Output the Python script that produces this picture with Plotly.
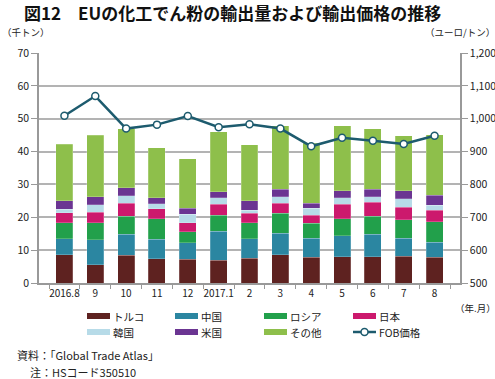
import plotly.graph_objects as go

months = ["2016.8", "9", "10", "11", "12", "2017.1", "2", "3", "4", "5", "6", "7", "8"]
turkey = [8.6, 5.5, 8.4, 7.4, 7.2, 7.0, 7.5, 8.6, 7.8, 8.0, 8.0, 8.1, 7.8]
china = [4.8, 7.6, 6.5, 5.9, 5.1, 8.7, 5.9, 6.6, 5.8, 6.4, 6.8, 5.5, 4.6]
russia = [5.0, 5.2, 5.4, 6.2, 3.3, 4.9, 5.0, 6.1, 4.6, 5.2, 5.5, 5.7, 6.2]
japan = [3.0, 3.3, 3.9, 3.1, 2.8, 3.3, 2.9, 3.0, 2.4, 4.4, 4.3, 3.7, 3.6]
korea = [1.1, 2.2, 2.3, 1.5, 2.5, 2.1, 0.9, 1.9, 2.2, 2.0, 1.6, 2.6, 1.5]
usa = [2.6, 2.5, 2.5, 1.8, 1.8, 1.8, 2.8, 2.3, 1.5, 2.1, 2.4, 2.5, 3.0]
other = [17.1, 18.7, 17.9, 15.2, 15.1, 18.2, 17.1, 19.3, 18.2, 19.7, 18.4, 16.7, 18.4]
fob = [1009, 1069, 970, 982, 1008, 974, 983, 970, 916, 942, 933, 923, 948]

series = [
    ("トルコ", turkey, "#5e2220"),
    ("中国", china, "#2b86a1"),
    ("ロシア", russia, "#22a04b"),
    ("日本", japan, "#cc196d"),
    ("韓国", korea, "#b7dbe8"),
    ("米国", usa, "#6b3592"),
    ("その他", other, "#8ebf4b"),
]
line_color = "#1d5b6e"
FONT = "Noto Sans CJK JP"

fig = go.Figure()
for name, vals, col in series:
    fig.add_trace(go.Bar(x=months, y=vals, name=name, marker=dict(color=col, line=dict(color="rgba(255,255,255,0.35)", width=0.6)),
                         showlegend=False))
fig.add_trace(go.Scatter(x=months, y=fob, name="FOB価格", yaxis="y2", mode="lines+markers",
                         line=dict(color=line_color, width=2.5),
                         marker=dict(size=7, color="white", line=dict(color=line_color, width=1.5)),
                         showlegend=False))

fig.update_layout(
    width=495, height=379,
    margin=dict(l=39, r=35, t=53, b=96),
    barmode="stack", bargap=0.45,
    plot_bgcolor="white", paper_bgcolor="white",
    font=dict(family=FONT, size=10, color="#222"),
    xaxis=dict(type="category", showline=True, linecolor="#999", linewidth=1.5,
               ticks="outside", tickson="boundaries", ticklen=4, tickcolor="#999",
               tickangle=0, automargin=False,
               tickfont=dict(size=10), showgrid=False),
    yaxis=dict(range=[0, 70], dtick=10, showline=True, linecolor="#999", linewidth=1.5,
               ticks="outside", ticklen=6, tickcolor="#999", gridcolor="#b3b3b3", gridwidth=1.5,
               zeroline=False, automargin=False, tickfont=dict(size=10.5)),
    yaxis2=dict(range=[500, 1200], dtick=100, overlaying="y", side="right", showline=True,
                linecolor="#999", linewidth=1.5, ticks="outside", ticklen=6, tickcolor="#999",
                showgrid=False, zeroline=False, automargin=False, tickformat=",", tickfont=dict(size=10.5)),
)

annotations = [
    dict(text="<b>図12　EUの化工でん粉の輸出量および輸出価格の推移</b>", x=22, y=13, font=dict(size=17, color="#111")),
    dict(text="（千トン）", x=0, y=32, font=dict(size=9.5)),
    dict(text="（ユーロ/トン）", x=423, y=32, font=dict(size=9.5)),
    dict(text="（年.月）", x=453, y=308, font=dict(size=9.5)),
    dict(text="資料：「Global Trade Atlas」", x=15, y=355, font=dict(size=11)),
    dict(text="注：HSコード350510", x=28, y=372, font=dict(size=11)),
]

shapes = []
legend_items = [(n, c) for n, _, c in series] + [("FOB価格", None)]
col_x = [87, 175, 264, 353]
row_y = [316, 332]
for i, (name, col) in enumerate(legend_items):
    cx = col_x[i % 4]
    cy = row_y[i // 4]
    if col is not None:
        shapes.append(dict(type="rect", xref="paper", yref="paper",
                           x0=(cx - 39) / 421, x1=(cx + 23 - 39) / 421,
                           y0=(283 - (cy + 3)) / 230, y1=(283 - (cy - 3)) / 230,
                           fillcolor=col, line=dict(width=0)))
    else:
        shapes.append(dict(type="line", xref="paper", yref="paper",
                           x0=(cx - 39) / 421, x1=(cx + 23 - 39) / 421,
                           y0=(283 - cy) / 230, y1=(283 - cy) / 230,
                           line=dict(color=line_color, width=2.5)))
        shapes.append(dict(type="circle", xref="paper", yref="paper",
                           x0=(cx + 8 - 39) / 421, x1=(cx + 15 - 39) / 421,
                           y0=(283 - (cy + 3.5)) / 230, y1=(283 - (cy - 3.5)) / 230,
                           fillcolor="white", line=dict(color=line_color, width=1.5)))
    annotations.append(dict(text=name, x=cx + 24, y=cy, font=dict(size=10.5)))

anns = []
for a in annotations:
    anns.append(dict(text=a["text"], xref="paper", yref="paper",
                     x=(a["x"] - 39) / 421, y=(283 - a["y"]) / 230,
                     xanchor="left", yanchor="middle", showarrow=False,
                     font=dict(family=FONT, size=a["font"]["size"], color=a["font"].get("color", "#222"))))
fig.update_layout(annotations=anns, shapes=shapes)

fig.write_html("out.html", config={"displayModeBar": False},
               post_script="document.body.style.margin='0';document.body.style.padding='0';")
